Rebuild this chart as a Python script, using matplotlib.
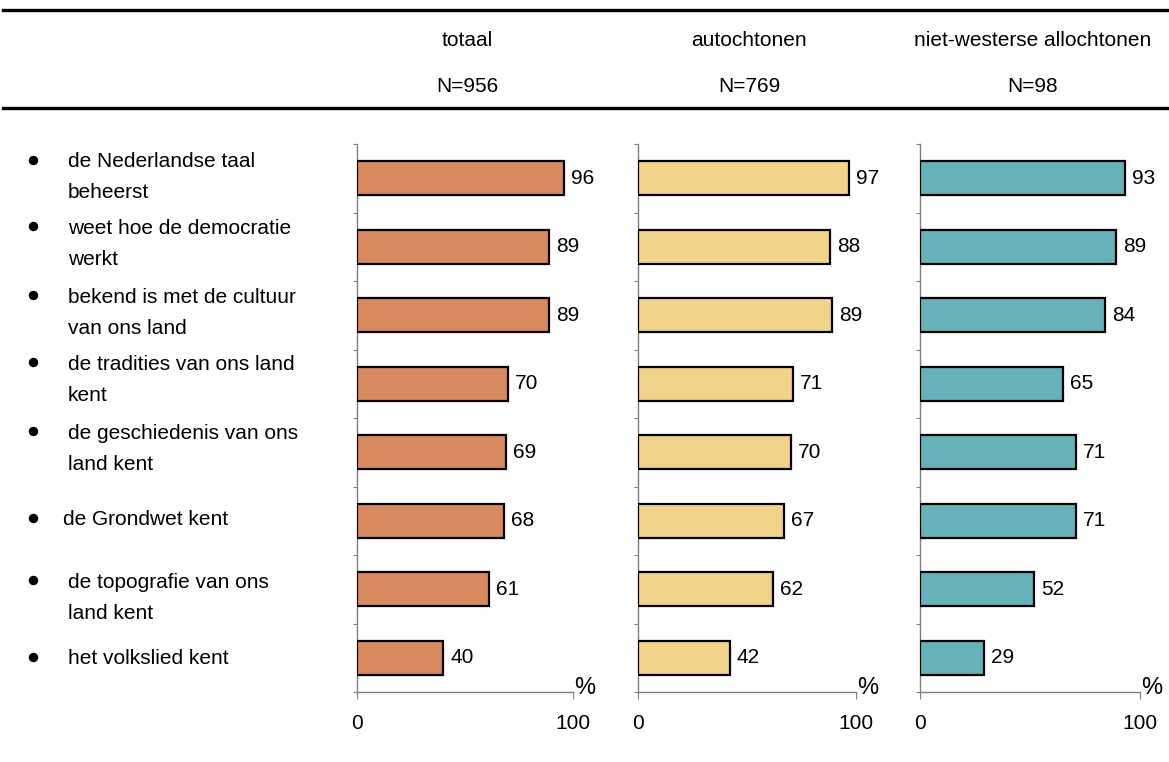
import matplotlib
matplotlib.use("Agg")
import matplotlib.pyplot as plt
from matplotlib.lines import Line2D
import matplotlib.transforms as mtrans
import numpy as np

plt.rcParams['font.family'] = ['Liberation Sans', 'DejaVu Sans']

categories = [
    "de Nederlandse taal\nbeheerst",
    "weet hoe de democratie\nwerkt",
    "bekend is met de cultuur\nvan ons land",
    "de tradities van ons land\nkent",
    "de geschiedenis van ons\nland kent",
    "de Grondwet kent",
    "de topografie van ons\nland kent",
    "het volkslied kent",
]
groups = ["totaal", "autochtonen", "niet-westerse allochtonen"]
group_n = ["N=956", "N=769", "N=98"]
totaal = [96, 89, 89, 70, 69, 68, 61, 40]
autochtonen = [97, 88, 89, 71, 70, 67, 62, 42]
niet_westers = [93, 89, 84, 65, 71, 71, 52, 29]
series = [totaal, autochtonen, niet_westers]
colors = ["#D8895E", "#F0D386", "#66B2BA"]

W, H = 1169, 762
fig = plt.figure(figsize=(W / 100, H / 100), dpi=100)

panels_px = [(357, 573), (638, 856), (920, 1140)]
y_top, y_bot = 144, 692
fs = 15
axes = []
for k, ((x0, x1), vals, col) in enumerate(zip(panels_px, series, colors)):
    ax = fig.add_axes([x0 / W, 1 - y_bot / H, (x1 - x0) / W, (y_bot - y_top) / H])
    axes.append(ax)
    n = len(vals)
    ypos = np.arange(n) + 0.5
    ax.barh(ypos, vals, height=0.5, color=col, edgecolor="black", linewidth=1.6, zorder=3)
    for y, v in zip(ypos, vals):
        ax.annotate(f"{v}", (v, y), xytext=(5, 0), textcoords="offset points",
                    va="center", ha="left", fontsize=fs)
    ax.set_xlim(0, 100)
    ax.set_ylim(n, 0)
    for s in ["top", "right"]:
        ax.spines[s].set_visible(False)
    for s in ["left", "bottom"]:
        ax.spines[s].set_color("#7f7f7f")
        ax.spines[s].set_linewidth(1.0)
    ax.set_yticks(np.arange(n + 1))
    ax.set_yticklabels([])
    ax.tick_params(axis="y", length=3, color="#7f7f7f", direction="out")
    ax.set_xticks([0, 100])
    ax.set_xticklabels(["0", "100"], fontsize=fs)
    ax.tick_params(axis="x", length=5, color="#7f7f7f", direction="out", pad=11)
    ax.text(1.055, 0.008, "%", transform=ax.transAxes, ha="center", va="center", fontsize=17)
    cx = (x0 + x1) / 2 / W
    fig.text(cx + 0.002, 1 - 40 / H, groups[k], ha="center", va="center", fontsize=fs)
    fig.text(cx + 0.002, 1 - 86 / H, group_n[k], ha="center", va="center", fontsize=fs)

# category labels: each line drawn separately (offsets in px relative to bar centre)
ax0 = axes[0]
slot_px = (y_bot - y_top) / len(categories)
label_dy_px = [-3, -5, -4.5, -6, -5.5, -3, 6.5, -1]
label_x_px = [68, 68, 68, 68, 68, 63, 68, 68]
line_px = 31
trans = mtrans.blended_transform_factory(fig.transFigure, ax0.transData)
for i, lab in enumerate(categories):
    lines = lab.split("\n")
    yc_px = label_dy_px[i]
    first_px = yc_px - (len(lines) - 1) * line_px / 2
    for j, line in enumerate(lines):
        yy = i + 0.5 + (first_px + j * line_px) / slot_px
        ax0.text(label_x_px[i] / W, yy, line, transform=trans, ha="left",
                 va="center_baseline", fontsize=fs)
    yb = i + 0.5 + first_px / slot_px
    ax0.add_artist(Line2D([33 / W], [yb], transform=trans, marker="o", markersize=5.8,
                          color="black", linestyle="none", clip_on=False))

# header rules
fig.add_artist(Line2D([3 / W, 1], [1 - 10 / H, 1 - 10 / H], color="black", linewidth=2.4))
fig.add_artist(Line2D([3 / W, 1], [1 - 108 / H, 1 - 108 / H], color="black", linewidth=2.4))

fig.savefig("out.png", dpi=100)
